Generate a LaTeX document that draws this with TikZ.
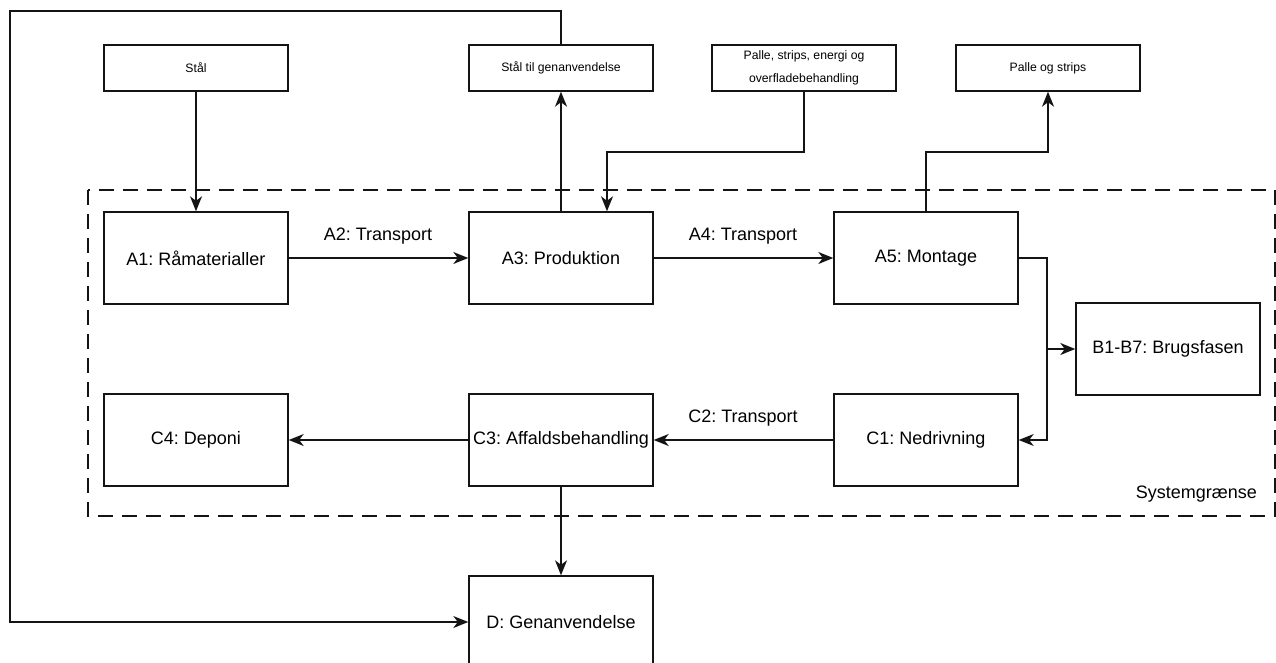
\documentclass[tikz,border=0pt]{standalone}
\usepackage{fontspec}
\setmainfont{Liberation Sans}
\usetikzlibrary{arrows.meta}
\frenchspacing
\begin{document}
\begin{tikzpicture}[x=1pt,y=-1pt,
  line width=1.4pt, draw={rgb,255:red,20;green,20;blue,20},
  big/.style={draw, line width=1.4pt, minimum width=184pt, minimum height=92pt, inner sep=0pt, font=\fontsize{18}{21}\selectfont},
  small/.style={draw, line width=1.4pt, minimum width=184pt, minimum height=46pt, inner sep=0pt, align=center, font=\fontsize{12.2}{23}\selectfont},
  lbl/.style={font=\fontsize{18}{21}\selectfont},
  arr/.style={line width=1.4pt, -{Stealth[length=15pt,width=12pt,inset=4.5pt]}}
]
\useasboundingbox (0,0) rectangle (1276,663);
% system boundary
\draw[dash pattern=on 15pt off 9pt, line width=1.4pt] (88,190) rectangle (1275,516);
\node[lbl, anchor=east] (sys) at (1261,494) {Systemgrænse};
% main boxes
\node[big] (A1) at (196,258) {A1: Råmaterialler};
\node[big] (A3) at (561,258) {A3: Produktion};
\node[big] (A5) at (926,258) {A5: Montage};
\node[big] (B) at (1168,349) {B1-B7: Brugsfasen};
\node[big] (C1) at (926,440) {C1: Nedrivning};
\node[big] (C3) at (561,440) {C3: Affaldsbehandling};
\node[big] (C4) at (196,440) {C4: Deponi};
\node[big] (D) at (561,622) {D: Genanvendelse};
% top boxes
\node[small] (St) at (196,68) {Stål};
\node[small] (SG) at (561,68) {Stål til genanvendelse};
\node[small] (PE) at (804,68) {Palle, strips, energi og\\overfladebehandling};
\node[small] (PS) at (1048,68) {Palle og strips};
% coordinates
\coordinate (k1) at (561,11);
\coordinate (k2) at (10,11);
\coordinate (k3) at (10,622);
\coordinate (p1) at (804,152);
\coordinate (p2) at (607,152);
\coordinate (q1) at (926,152);
\coordinate (q2) at (1048,152);
\coordinate (r1) at (1047,258);
\coordinate (r2) at (1047,440);
\coordinate (rb) at (1047,349);
% connectors
\draw[arr] (St.south) -- (A1.north);
\draw[arr] (A3.north) -- (SG.south);
\draw[arr] (SG.north) -- (k1) -- (k2) -- (k3) -- (D.west);
\draw[arr] (PE.south) -- (p1) -- (p2) -- (p2 |- A3.north);
\draw[arr] (q1 |- A5.north) -- (q1) -- (q2) -- (PS.south);
\draw[arr] (A1.east) -- (A3.west);
\node[lbl] (t2) at (378,236) {A2: Transport};
\draw[arr] (A3.east) -- (A5.west);
\node[lbl] (t4) at (743,236) {A4: Transport};
\draw[arr] (A5.east) -- (r1) -- (r2) -- (C1.east);
\draw[arr] (rb) -- (B.west);
\draw[arr] (C1.west) -- (C3.east);
\node[lbl] (tc2) at (743,418) {C2: Transport};
\draw[arr] (C3.west) -- (C4.east);
\draw[arr] (C3.south) -- (D.north);
\end{tikzpicture}
\end{document}
